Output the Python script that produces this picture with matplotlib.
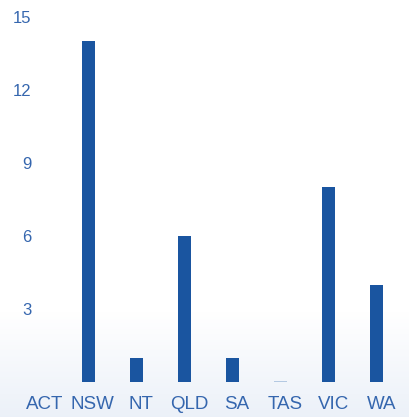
import matplotlib
matplotlib.use("Agg")
import matplotlib.pyplot as plt
import matplotlib.transforms as mtransforms
import numpy as np

categories = ["ACT", "NSW", "NT", "QLD", "SA", "TAS", "VIC", "WA"]
values = [0, 14, 1, 6, 1, 0.05, 8, 4]
y_ticks = [3, 6, 9, 12, 15]

bar_color = "#1a55a0"
faint_color = "#b4c9e2"
text_color = "#3566ae"

W, H = 409, 417
fig = plt.figure(figsize=(W / 100, H / 100), dpi=100)
fig.patch.set_facecolor("white")

# background gradient at bottom
bg = fig.add_axes([0, 0, 1, 1], zorder=-10)
grad = np.linspace(0, 1, 200).reshape(-1, 1)
top_c = np.array([1.0, 1.0, 1.0])
bot_c = np.array([0.925, 0.945, 0.975])
frac = np.clip((grad - 0.0) / 0.25, 0, 1)
img = bot_c * (1 - frac[..., None]) + top_c * frac[..., None]
bg.imshow(img, aspect="auto", extent=[0, 1, 0, 1], origin="lower")
bg.set_axis_off()

left = 16 / W
bottom = (H - 382) / H
ax = fig.add_axes([left, bottom, 385 / W, (382 - 17) / H])
ax.patch.set_alpha(0)
x = np.arange(len(categories))
colors = [faint_color if c == "TAS" else bar_color for c in categories]
ax.bar(x, values, width=13 / 48.1, color=colors)
ax.set_xlim(-0.5, len(categories) - 0.5)
ax.set_ylim(0, 15)
for s in ax.spines.values():
    s.set_visible(False)
ax.set_yticks(y_ticks)
ax.set_yticklabels([str(t) for t in y_ticks], fontsize=12, color=text_color,
                   family="Liberation Sans")
ax.tick_params(axis="y", length=0, pad=-11)
ax.set_xticks(x)
ax.set_xticklabels(categories, fontsize=13.5, color=text_color, family="Liberation Sans")
ax.tick_params(axis="x", length=0, pad=10)
offset = mtransforms.ScaledTranslation(4.5 / 100, 0, fig.dpi_scale_trans)
for lab in ax.get_xticklabels():
    lab.set_transform(lab.get_transform() + offset)

fig.savefig("out.png", dpi=100)
